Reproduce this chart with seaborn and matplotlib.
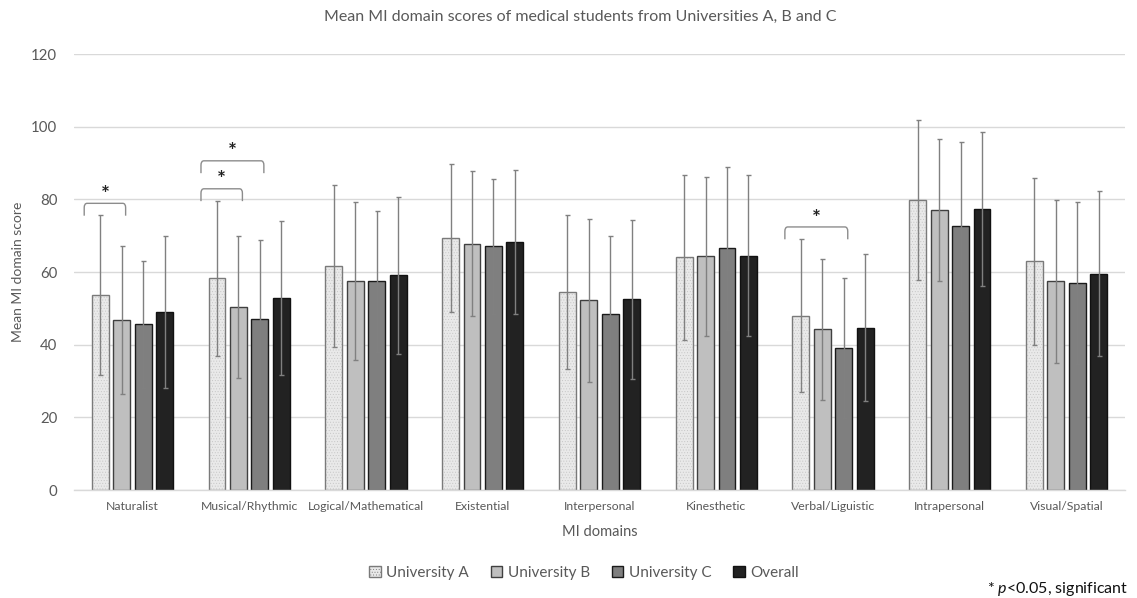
import numpy as np
import pandas as pd
import seaborn as sns
import matplotlib.pyplot as plt
import matplotlib.colors as mcolors
from matplotlib.patches import Patch, PathPatch
from matplotlib.path import Path

# Mean and standard deviation of MI domain scores
domains = ["Naturalist", "Musical/Rhythmic", "Logical/Mathematical", "Existential",
           "Interpersonal", "Kinesthetic", "Verbal/Liguistic", "Intrapersonal",
           "Visual/Spatial"]
groups = ["University A", "University B", "University C", "Overall"]

mean_a = [53.6, 58.3, 61.7, 69.4, 54.5, 64.0, 48.0, 79.7, 62.9]
sd_a = [22.0, 21.3, 22.3, 20.4, 21.2, 22.8, 21.1, 22.0, 23.0]
mean_b = [46.8, 50.3, 57.5, 67.8, 52.2, 64.3, 44.2, 77.0, 57.4]
sd_b = [20.4, 19.6, 21.8, 19.9, 22.5, 21.8, 19.4, 19.6, 22.4]
mean_c = [45.6, 47.0, 57.5, 67.1, 48.5, 66.5, 39.0, 72.6, 57.0]
sd_c = [17.4, 21.7, 19.4, 18.6, 21.5, 22.4, 19.3, 23.2, 22.4]
mean_o = [49.0, 52.8, 59.1, 68.3, 52.5, 64.5, 44.7, 77.3, 59.5]
sd_o = [20.8, 21.1, 21.6, 19.8, 21.9, 22.2, 20.2, 21.2, 22.7]

# Significant pairwise differences (p < 0.05)
sig_pairs = [("Naturalist", "University A", "University B"),
             ("Musical/Rhythmic", "University A", "University B"),
             ("Musical/Rhythmic", "University A", "University C"),
             ("Verbal/Liguistic", "University A", "University C")]

y_ticks = [0, 20, 40, 60, 80, 100, 120]

means = [mean_a, mean_b, mean_c, mean_o]
sds = [sd_a, sd_b, sd_c, sd_o]
df = pd.DataFrame({
    "domain": np.tile(domains, len(groups)),
    "group": np.repeat(groups, len(domains)),
    "mean": np.concatenate(means),
    "sd": np.concatenate(sds),
})

sns.set_theme(style="white")
plt.rcParams["font.family"] = ["Lato", "DejaVu Sans"]
plt.rcParams["mathtext.fontset"] = "custom"
plt.rcParams["mathtext.it"] = "Lato:italic"
plt.rcParams["mathtext.rm"] = "Lato"
plt.rcParams["hatch.linewidth"] = 0.35

fills = ["#e9e9e9", "#bfbfbf", "#7f7f7f", "#222222"]
edges = ["#7a7a7a", "#404040", "#1a1a1a", "#111111"]
text_grey = "#595959"

fig = plt.figure(figsize=(11.37, 5.98), dpi=100)
ax = fig.add_axes([74 / 1137, 1 - 490 / 598, 1051 / 1137, 436 / 598])

sns.barplot(data=df, x="domain", y="mean", hue="group", order=domains,
            hue_order=groups, palette=fills, width=0.735, gap=0.21,
            errorbar=None, linewidth=1.0, legend=False, ax=ax)

# Style bars and add SD error bars at each bar centre
bar_containers = list(ax.containers)
centers = {}
for gi, cont in enumerate(bar_containers):
    xs = []
    for p in cont.patches:
        p.set_edgecolor(edges[gi])
        p.set_linewidth(1.0)
        if gi == 0:
            p.set_hatch("......")
            if hasattr(p, "set_hatchcolor"):
                p.set_hatchcolor("#c4c4c4")
            else:
                p._hatch_color = mcolors.to_rgba("#c4c4c4")
        xs.append(p.get_x() + p.get_width() / 2)
    centers[groups[gi]] = xs
    ax.errorbar(xs, means[gi], yerr=sds[gi], fmt="none", ecolor="#808080",
                elinewidth=1.0, capsize=1.8, capthick=1.0, zorder=3)


def bracket(ax, x1, x2, ytop, leg=3.4, rx=0.025, ry=1.2):
    """Square bracket with softly rounded corners."""
    verts = [(x1, ytop - leg), (x1, ytop - ry), (x1, ytop), (x1 + rx, ytop),
             (x2 - rx, ytop), (x2, ytop), (x2, ytop - ry), (x2, ytop - leg)]
    codes = [Path.MOVETO, Path.LINETO, Path.CURVE3, Path.CURVE3,
             Path.LINETO, Path.CURVE3, Path.CURVE3, Path.LINETO]
    ax.add_patch(PathPatch(Path(verts, codes), fill=False, edgecolor="#8c8c8c",
                           lw=1.0, zorder=4))


# Significance brackets
bracket_tops = {}
for dom, g1, g2 in sig_pairs:
    di = domains.index(dom)
    i1, i2 = groups.index(g1), groups.index(g2)
    x1 = centers[g1][di] - 0.137
    x2 = centers[g2][di] + 0.034
    tops = [means[k][di] + sds[k][di] for k in range(i1, i2 + 1)]
    if dom in bracket_tops:
        ytop = bracket_tops[dom] + 7.7
    else:
        ytop = max(tops) + 3.3
    bracket_tops[dom] = ytop
    bracket(ax, x1, x2, ytop)
    ax.text((x1 + x2) / 2, ytop + 2.3, "*", ha="center", va="center",
            fontsize=15, color="#222222", fontweight="bold")

ax.set_ylim(0, 120)
ax.set_xlim(-0.5, len(domains) - 0.5)
ax.set_yticks(y_ticks)
ax.yaxis.grid(True, color="#d9d9d9", lw=1.0)
ax.set_axisbelow(True)
for s in ["top", "right", "left"]:
    ax.spines[s].set_visible(False)
ax.spines["bottom"].set_color("#d9d9d9")
ax.spines["bottom"].set_linewidth(1.0)
ax.tick_params(axis="y", length=0, labelsize=10.8, labelcolor=text_grey, pad=12)
ax.tick_params(axis="x", length=0, labelsize=8.8, labelcolor=text_grey, pad=8)

ax.set_xlabel("MI domains", fontsize=10.5, color=text_grey, labelpad=9)
ax.set_ylabel("Mean MI domain score", fontsize=10, color=text_grey)
ax.yaxis.set_label_coords(-0.048, 0.5)
fig.text(580 / 1137, 1 - 17 / 598,
         "Mean MI domain scores of medical students from Universities A, B and C",
         ha="center", va="center", fontsize=11.5, color=text_grey)

handles = [Patch(facecolor=fills[i], edgecolor=edges[i], lw=1.0,
                 hatch="......" if i == 0 else None) for i in range(len(groups))]
fig.legend(handles, groups, loc="center", bbox_to_anchor=(584 / 1137, 1 - 573 / 598),
           ncol=4, frameon=False, handlelength=0.75, handleheight=0.75,
           handletextpad=0.35, columnspacing=1.45, fontsize=11,
           labelcolor=text_grey)

fig.text(1128 / 1137, 1 - 589 / 598, r"* $\it{p}$<0.05, significant",
         ha="right", va="center", fontsize=11.5, color="#111111")

fig.savefig("out.png", dpi=100)
